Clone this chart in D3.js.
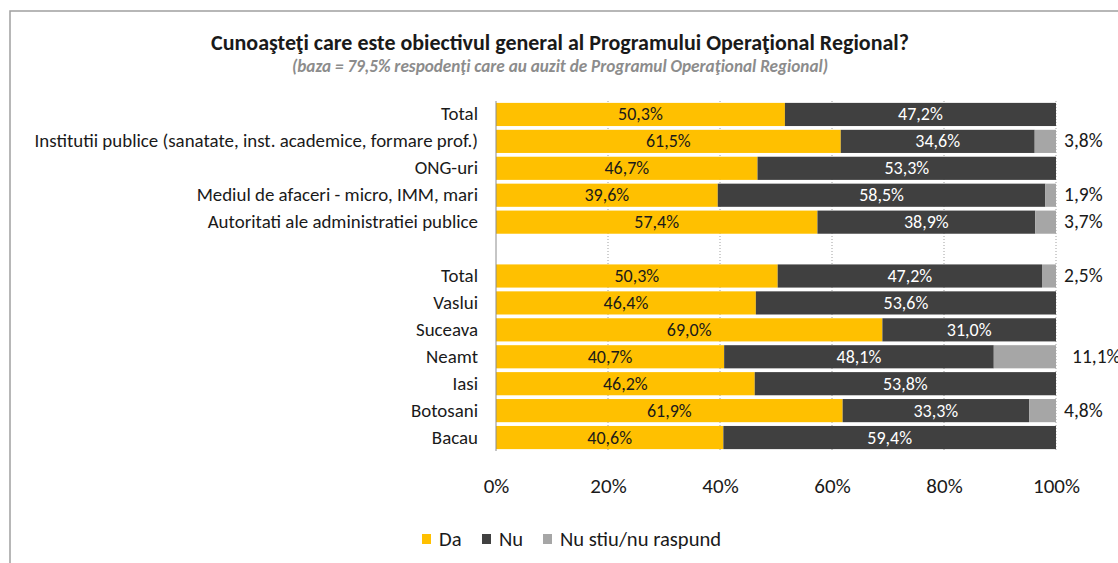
<!DOCTYPE html>
<html>
<head>
<meta charset="utf-8">
<script src="https://cdn.jsdelivr.net/npm/d3@7"></script>
<style>
  body { margin: 0; background: #fff; }
  text { font-family: Carlito, Calibri, "Liberation Sans", Arial, sans-serif; }
</style>
</head>
<body>
<svg id="chart" width="1118" height="563"></svg>
<script>
// categories, top to bottom ("" = empty spacer row)
var categories = ["Total", "Institutii publice (sanatate, inst. academice, formare prof.)", "ONG-uri",
  "Mediul de afaceri - micro, IMM, mari", "Autoritati ale administratiei publice", "",
  "Total", "Vaslui", "Suceava", "Neamt", "Iasi", "Botosani", "Bacau"];
var da    = [50.3, 61.5, 46.7, 39.6, 57.4, null, 50.3, 46.4, 69.0, 40.7, 46.2, 61.9, 40.6];
var nu    = [47.2, 34.6, 53.3, 58.5, 38.9, null, 47.2, 53.6, 31.0, 48.1, 53.8, 33.3, 59.4];
var nsnr  = [0, 3.8, 0, 1.9, 3.7, null, 2.5, 0, 0, 11.1, 0, 4.8, 0];
var seriesNames = ["Da", "Nu", "Nu stiu/nu raspund"];
var xTicks = [0, 0.2, 0.4, 0.6, 0.8, 1];

var colors = ["#FFC000", "#404040", "#A6A6A6"];
var svg = d3.select("#chart");

// chart frame
svg.append("rect").attr("x", 10).attr("y", 11).attr("width", 1200).attr("height", 600)
  .attr("fill", "none").attr("stroke", "#a0a0a0").attr("stroke-width", 1.5);

var plotLeft = 496, plotRight = 1056, plotTop = 101, plotBottom = 451;
var keys = categories.map(function(c, i) { return "r" + i; });
var x = d3.scaleLinear().domain([0, 1]).range([plotLeft, plotRight]);
var y = d3.scaleBand().domain(keys).range([plotTop, plotBottom]).paddingInner(0.14).paddingOuter(0.07);

// title
svg.append("text").attr("x", 560).attr("y", 50).attr("text-anchor", "middle")
  .attr("font-size", 22).attr("font-weight", "bold").attr("fill", "#1a1a1a")
  .text("Cunoaşteţi care este obiectivul general al Programului Operaţional Regional?");
svg.append("text").attr("x", 560).attr("y", 72).attr("text-anchor", "middle")
  .attr("font-size", 17.2).attr("font-weight", "bold").attr("font-style", "italic").attr("fill", "#8c8c8c")
  .text("(baza = 79,5% respodenţi care au auzit de Programul  Operaţional Regional)");

// gridlines
svg.append("g").selectAll("line").data(xTicks.slice(1)).join("line")
  .attr("x1", function(d) { return x(d); }).attr("x2", function(d) { return x(d); })
  .attr("y1", plotTop).attr("y2", plotBottom)
  .attr("stroke", "#a0a0a0").attr("stroke-dasharray", "1,2");

// stacked rows (100% normalized)
var rows = categories.map(function(c, i) {
  var vals = [da[i], nu[i], nsnr[i]];
  var sum = d3.sum(vals);
  var acc = 0;
  var segs = vals.map(function(v, j) {
    var s = { v: v, j: j, x0: sum ? acc / sum : 0, x1: sum ? (acc + v) / sum : 0 };
    acc += v || 0;
    return s;
  });
  return { key: keys[i], segs: segs, empty: da[i] === null };
}).filter(function(r) { return !r.empty; });

var fmt = function(v) { return v.toFixed(1).replace(".", ",") + "%"; };

var g = svg.append("g");
rows.forEach(function(r) {
  r.segs.forEach(function(s) {
    if (!s.v) return;
    g.append("rect").attr("x", x(s.x0)).attr("width", x(s.x1) - x(s.x0))
      .attr("y", y(r.key)).attr("height", y.bandwidth()).attr("fill", colors[s.j]);
    var cy = y(r.key) + y.bandwidth() / 2 + 6;
    if (s.j < 2) {
      g.append("text").attr("x", (x(s.x0) + x(s.x1)) / 2).attr("y", cy)
        .attr("text-anchor", "middle").attr("font-size", 18)
        .attr("fill", s.j === 0 ? "#1a1a1a" : "#ffffff").text(fmt(s.v));
    } else {
      g.append("text").attr("x", plotRight + (s.v >= 10 ? 16 : 8)).attr("y", cy)
        .attr("font-size", 19.5).attr("fill", "#1a1a1a").text(fmt(s.v));
    }
  });
});

// left axis line
svg.append("line").attr("x1", plotLeft).attr("x2", plotLeft).attr("y1", plotTop).attr("y2", plotBottom)
  .attr("stroke", "#8c8c8c");

// category labels
svg.append("g").selectAll("text").data(categories).join("text")
  .attr("x", plotLeft - 18).attr("y", function(d, i) { return y(keys[i]) + y.bandwidth() / 2 + 6; })
  .attr("text-anchor", "end").attr("font-size", 18.9).attr("fill", "#1a1a1a")
  .text(function(d) { return d; });

// x-axis labels
var xAxis = d3.axisBottom(x).tickValues(xTicks).tickSize(0).tickPadding(0)
  .tickFormat(function(d) { return Math.round(d * 100) + "%"; });
var ax = svg.append("g").attr("transform", "translate(0," + 478 + ")").call(xAxis);
ax.select(".domain").remove();
ax.selectAll("text").attr("font-size", 21).attr("fill", "#1a1a1a")
  .style("font-family", 'Carlito, Calibri, "Liberation Sans", Arial, sans-serif');

// legend
var legX = [422, 482, 543];
var lg = svg.append("g").selectAll("g").data(seriesNames).join("g")
  .attr("transform", function(d, i) { return "translate(" + legX[i] + ",534)"; });
lg.append("rect").attr("width", 9).attr("height", 10).attr("fill", function(d, i) { return colors[i]; });
lg.append("text").attr("x", 17).attr("y", 12).attr("font-size", 20.6).attr("fill", "#1a1a1a")
  .text(function(d) { return d; });
</script>
</body>
</html>
